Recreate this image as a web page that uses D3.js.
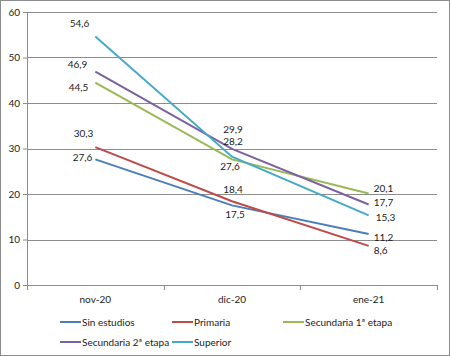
<!DOCTYPE html>
<html>
<head>
<meta charset="utf-8">
<script src="https://cdn.jsdelivr.net/npm/d3@7"></script>
<style>
  body { margin: 0; background: #fff; }
  text { font-family: Lato, "Liberation Sans", sans-serif; font-size: 10px; fill: #222; }
</style>
</head>
<body>
<div id="chart"></div>
<script>
// Chart data
var months = ["nov-20", "dic-20", "ene-21"];
var seriesNames = ["Sin estudios", "Primaria", "Secundaria 1ª etapa", "Secundaria 2ª etapa", "Superior"];
var sinEstudios = [27.6, 17.5, 11.2];
var primaria = [30.3, 18.4, 8.6];
var secundaria1 = [44.5, 27.6, 20.1];
var secundaria2 = [46.9, 29.9, 17.7];
var superior = [54.6, 28.2, 15.3];
var yTicks = [0, 10, 20, 30, 40, 50, 60];

var colors = ["#4a7ebb", "#be4b48", "#98b954", "#7d60a0", "#46aac5"];

// label offsets (dx, dy) from each point, per series and month
var labelOffsets = [
  [[-3, -2], [3, 9], [5, 3]],
  [[-2, -14], [1, -12], [5, 5]],
  [[-7, 5], [-2, 7], [5, -5]],
  [[-8, -7], [1, -19], [5, -2]],
  [[-6, -13], [1, -15], [7, 2]]
];

var svgWidth = 450;
var svgHeight = 356;

var margin = { top: 12, right: 13, bottom: 71, left: 27 };
var chartWidth = svgWidth - margin.left - margin.right;
var chartHeight = svgHeight - margin.top - margin.bottom;

var svg = d3.select("#chart")
  .append("svg")
  .attr("width", svgWidth)
  .attr("height", svgHeight);

// outer frame
svg.append("rect")
  .attr("x", 0.5).attr("y", 0.5)
  .attr("width", svgWidth - 1).attr("height", svgHeight - 1)
  .attr("fill", "none")
  .attr("stroke", "#8c8c8c");

var chartGroup = svg.append("g")
  .attr("transform", `translate(${margin.left}, ${margin.top})`);

var xScale = d3.scaleBand()
  .domain(months)
  .range([0, chartWidth]);

var yScale = d3.scaleLinear()
  .domain([0, 60])
  .range([chartHeight, 0]);

// gridlines
chartGroup.selectAll(".grid")
  .data(yTicks.filter(d => d > 0))
  .enter()
  .append("line")
  .attr("x1", 0)
  .attr("x2", chartWidth)
  .attr("y1", d => Math.round(yScale(d)) + 0.5)
  .attr("y2", d => Math.round(yScale(d)) + 0.5)
  .attr("stroke", "#8c8c8c");

// y axis
var leftAxis = d3.axisLeft(yScale).tickValues(yTicks).tickSize(4).tickPadding(3);
var yAxis = chartGroup.append("g").call(leftAxis);
yAxis.select(".domain").attr("stroke", "#8c8c8c");
yAxis.selectAll(".tick line").attr("stroke", "#8c8c8c");
yAxis.selectAll("text").style("fill", "#222");

// x axis with ticks at category boundaries
var xAxis = chartGroup.append("g")
  .attr("transform", `translate(0, ${chartHeight})`);
xAxis.append("line")
  .attr("x1", 0).attr("x2", chartWidth)
  .attr("y1", 0.5).attr("y2", 0.5)
  .attr("stroke", "#8c8c8c");
var boundaries = months.map(m => xScale(m)).concat([chartWidth]);
xAxis.selectAll(".xtick")
  .data(boundaries)
  .enter()
  .append("line")
  .attr("x1", d => Math.round(d) + 0.5)
  .attr("x2", d => Math.round(d) + 0.5)
  .attr("y1", 0)
  .attr("y2", 5)
  .attr("stroke", "#8c8c8c");
xAxis.selectAll(".xlabel")
  .data(months)
  .enter()
  .append("text")
  .attr("x", d => xScale(d) + xScale.bandwidth() / 2)
  .attr("y", 18)
  .attr("text-anchor", "middle")
  .text(d => d);

// series lines
var allSeries = [sinEstudios, primaria, secundaria1, secundaria2, superior];
var line = d3.line()
  .x((d, i) => xScale(months[i]) + xScale.bandwidth() / 2)
  .y(d => yScale(d));

allSeries.forEach(function(values, s) {
  chartGroup.append("path")
    .datum(values)
    .attr("d", line)
    .attr("fill", "none")
    .attr("stroke", colors[s])
    .attr("stroke-width", 2);
});

// data labels
allSeries.forEach(function(values, s) {
  values.forEach(function(v, i) {
    var off = labelOffsets[s][i];
    chartGroup.append("text")
      .attr("x", xScale(months[i]) + xScale.bandwidth() / 2 + off[0])
      .attr("y", yScale(v) + off[1])
      .attr("dy", "0.35em")
      .attr("text-anchor", i === 0 ? "end" : (i === 1 ? "middle" : "start"))
      .text(d3.format(".1f")(v).replace(".", ","));
  });
});

// legend
var legendItems = [
  { x: 60, y: 322 }, { x: 172, y: 322 }, { x: 283, y: 322 },
  { x: 60, y: 342 }, { x: 172, y: 342 }
];
var legend = svg.append("g");
seriesNames.forEach(function(name, s) {
  var pos = legendItems[s];
  legend.append("line")
    .attr("x1", pos.x).attr("x2", pos.x + 21)
    .attr("y1", pos.y).attr("y2", pos.y)
    .attr("stroke", colors[s])
    .attr("stroke-width", 2);
  legend.append("text")
    .attr("x", pos.x + 22)
    .attr("y", pos.y)
    .attr("dy", "0.35em")
    .text(name);
});
</script>
</body>
</html>
